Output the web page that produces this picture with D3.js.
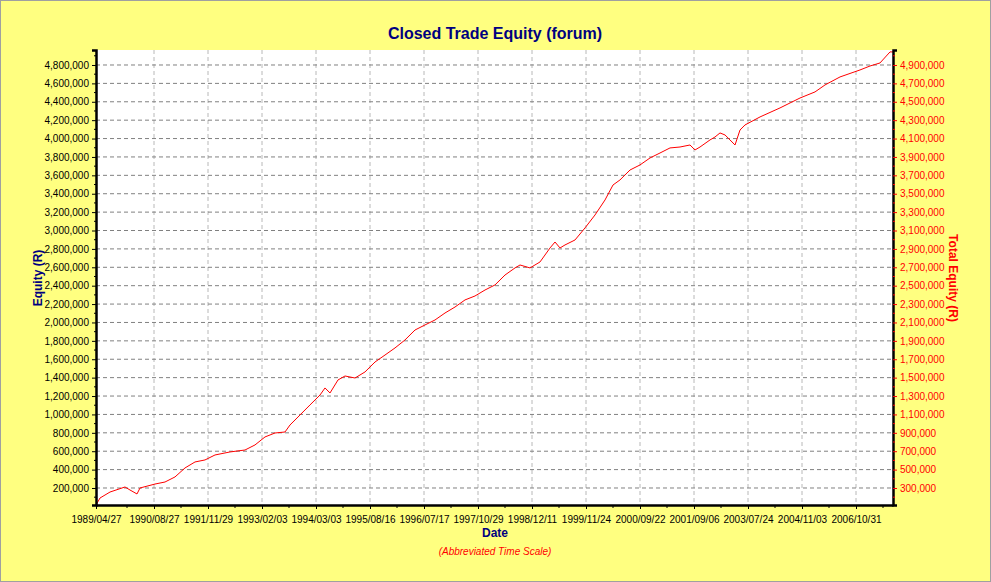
<!DOCTYPE html>
<html>
<head>
<meta charset="utf-8">
<script src="https://cdn.jsdelivr.net/npm/d3@7"></script>
<style>
body { margin: 0; background: #ffff80; }
text { font-family: "Liberation Sans", Arial, sans-serif; }
</style>
</head>
<body>
<svg id="chart" width="991" height="582"></svg>
<script>
// bar index (abbreviated time scale) and closed trade equity
const barIndex = [0,4,14,29,34,41,44,59,69,79,89,99,109,119,134,149,159,169,179,189,194,204,214,224,229,234,242,249,259,269,279,289,299,309,319,329,339,349,359,369,379,389,399,409,419,424,434,444,454,459,464,469,479,489,499,509,517,524,529,534,544,554,564,574,584,594,599,604,614,619,624,629,634,639,644,649,664,684,704,719,729,744,764,774,784,794,797];
const equity = [15000,91000,156000,211000,178000,135000,200000,243000,265000,320000,418000,483000,505000,559000,592000,613000,668000,755000,798000,809000,885000,994000,1103000,1211000,1288000,1233000,1375000,1418000,1396000,1462000,1570000,1646000,1723000,1810000,1918000,1973000,2027000,2103000,2168000,2245000,2288000,2353000,2408000,2516000,2593000,2625000,2593000,2658000,2810000,2875000,2810000,2843000,2897000,3028000,3169000,3332000,3495000,3550000,3604000,3658000,3713000,3789000,3843000,3898000,3908000,3930000,3876000,3908000,3985000,4017000,4061000,4039000,3985000,3930000,4093000,4148000,4235000,4333000,4441000,4507000,4583000,4670000,4746000,4789000,4822000,4942000,4942000];
const dateLabels = ["1989/04/27","1990/08/27","1991/11/29","1993/02/03","1994/03/03","1995/08/16","1996/07/17","1997/10/29","1998/12/11","1999/11/24","2000/09/22","2001/09/06","2003/07/24","2004/11/03","2006/10/31"];
const dateBars = [0,58,112,166,220,274,328,382,436,490,544,598,652,706,760];
const totalOffset = 100000; // total equity = closed equity + open

const svg = d3.select("#chart");
const m = {left: 96, right: 893, top: 50, bottom: 505};

const x = d3.scaleLinear().domain([0, 797]).range([m.left, m.right]);
const y = d3.scaleLinear().domain([15000, 4963000]).range([m.bottom, m.top]);
const y2 = d3.scaleLinear().domain([15000 + totalOffset, 4963000 + totalOffset]).range([m.bottom, m.top]);

// plot background
svg.append("rect").attr("x", m.left).attr("y", m.top)
  .attr("width", m.right - m.left).attr("height", m.bottom - m.top).attr("fill", "white");

const leftTicks = d3.range(200000, 4800001, 200000);
const rightTicks = d3.range(300000, 4900001, 200000);

// grid
svg.append("g").selectAll("line").data(dateBars.slice(1)).join("line")
  .attr("x1", d => x(d)).attr("x2", d => x(d)).attr("y1", m.top).attr("y2", m.bottom)
  .attr("stroke", "#b8b8b8").attr("stroke-dasharray", "4,3");
svg.append("g").selectAll("line").data(leftTicks).join("line")
  .attr("x1", m.left).attr("x2", m.right).attr("y1", d => y(d)).attr("y2", d => y(d))
  .attr("stroke", "#808080").attr("stroke-dasharray", "4,3");

// line
svg.append("path").datum(barIndex)
  .attr("d", d3.line().x(d => x(d)).y((d, i) => y(equity[i])))
  .attr("fill", "none").attr("stroke", "red").attr("stroke-width", 1);

// axes
const left = svg.append("g").attr("transform", `translate(${m.left},0)`)
  .call(d3.axisLeft(y).tickValues(leftTicks).tickFormat(d3.format(",")).tickSize(4));
const right = svg.append("g").attr("transform", `translate(${m.right},0)`)
  .call(d3.axisRight(y2).tickValues(rightTicks).tickFormat(d3.format(",")).tickSize(4));
const bottom = svg.append("g").attr("transform", `translate(0,${m.bottom})`)
  .call(d3.axisBottom(x).tickValues(dateBars).tickFormat((d, i) => dateLabels[i]).tickSize(4).tickSizeOuter(0));

[left, right, bottom].forEach(g => {
  g.select(".domain").attr("stroke", "black").attr("stroke-width", 2.5);
  g.selectAll("text").style("font-size", "10px");
});
left.selectAll("text").attr("fill", "black");
right.selectAll("text").attr("fill", "red");
right.selectAll("line").attr("stroke", "red");
bottom.selectAll("text").attr("fill", "black").attr("dy", "1.1em");

// minor ticks
svg.append("g").selectAll("line").data(d3.range(100000, 4900001, 200000)).join("line")
  .attr("x1", m.left - 2).attr("x2", m.left).attr("y1", d => y(d)).attr("y2", d => y(d)).attr("stroke", "black");
svg.append("g").selectAll("line").data(d3.range(200000, 5000001, 200000)).join("line")
  .attr("x1", m.right).attr("x2", m.right + 2).attr("y1", d => y2(d)).attr("y2", d => y2(d)).attr("stroke", "red");
svg.append("g").selectAll("line").data(dateBars.slice(1).map(d => d - 27).concat([787])).join("line")
  .attr("x1", d => x(d)).attr("x2", d => x(d)).attr("y1", m.bottom).attr("y2", m.bottom + 3).attr("stroke", "black");

// titles
svg.append("text").attr("x", 495).attr("y", 39).attr("text-anchor", "middle")
  .attr("fill", "#000080").style("font-size", "16px").style("font-weight", "bold")
  .text("Closed Trade Equity (forum)");
svg.append("text").attr("x", 495).attr("y", 537).attr("text-anchor", "middle")
  .attr("fill", "#000080").style("font-size", "12px").style("font-weight", "bold").text("Date");
svg.append("text").attr("x", 495).attr("y", 555).attr("text-anchor", "middle")
  .attr("fill", "red").style("font-size", "10px").style("font-style", "italic").text("(Abbreviated Time Scale)");
svg.append("text").attr("transform", "translate(42,278) rotate(-90)").attr("text-anchor", "middle")
  .attr("fill", "#000080").style("font-size", "12px").style("font-weight", "bold").text("Equity (R)");
svg.append("text").attr("transform", "translate(949,278) rotate(90)").attr("text-anchor", "middle")
  .attr("fill", "red").style("font-size", "12px").style("font-weight", "bold").text("Total Equity (R)");

// window border
svg.append("rect").attr("x", 0.5).attr("y", 0.5).attr("width", 990).attr("height", 581)
  .attr("fill", "none").attr("stroke", "#a0a0a0");
</script>
</body>
</html>
